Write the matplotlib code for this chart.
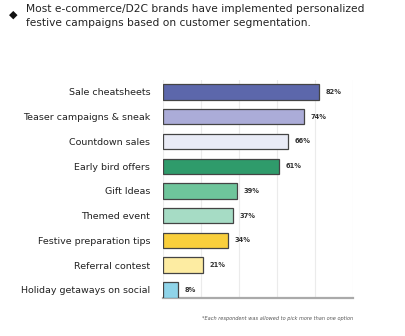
import matplotlib.pyplot as plt

plt.rcParams['font.family'] = ['DejaVu Sans']

# survey results, top to bottom
categories = ["Sale cheatsheets", "Teaser campaigns & sneak", "Countdown sales",
              "Early bird offers", "Gift Ideas", "Themed event",
              "Festive preparation tips", "Referral contest",
              "Holiday getaways on social"]
values = [82, 74, 66, 61, 39, 37, 34, 21, 8]
colors = ["#5c67ab", "#abacd8", "#e9ebf6", "#2f9b6b", "#6ec59b",
          "#a6dcc5", "#f9cf3c", "#fdeca2", "#8fd4e9"]

fig = plt.figure(figsize=(4.05, 3.36), dpi=100)
ax = fig.add_axes([0.402, 0.113, 0.47, 0.65])

ypos = list(range(len(categories)))
ax.barh(ypos, values, height=0.62, color=colors, edgecolor="#444444",
        linewidth=0.9, zorder=3)

for y, v in zip(ypos, values):
    ax.text(v + 3.5, y, f"{v}%", va="center", ha="left", fontsize=4.8,
            color="#333333", fontweight="semibold")

ax.set_xlim(0, 100)
ax.set_ylim(8.33, -0.5)
ax.set_xticks([0, 20, 40, 60, 80, 100])
ax.set_xticklabels([])
ax.set_yticks(ypos)
ax.set_yticklabels(categories, fontsize=6.8, color="#222222")
ax.tick_params(length=0, pad=9)
ax.grid(axis="x", color="#ebebeb", linewidth=0.8, zorder=0)
for s in ["top", "right", "left"]:
    ax.spines[s].set_visible(False)
ax.spines["bottom"].set_color("#aaaaaa")
ax.spines["bottom"].set_linewidth(1.6)

# header with bullet
fig.text(0.022, 0.972, "\u25c6", fontsize=8, color="#111111", va="top")
fig.text(0.064, 0.988,
         "Most e-commerce/D2C brands have implemented personalized\n"
         "festive campaigns based on customer segmentation.",
         fontsize=7.7, color="#222222", va="top", linespacing=1.5)

fig.text(0.873, 0.053, "*Each respondent was allowed to pick more than one option",
         fontsize=3.6, style="italic", color="#555555", ha="right", va="center")

fig.savefig("out.png", dpi=100)
